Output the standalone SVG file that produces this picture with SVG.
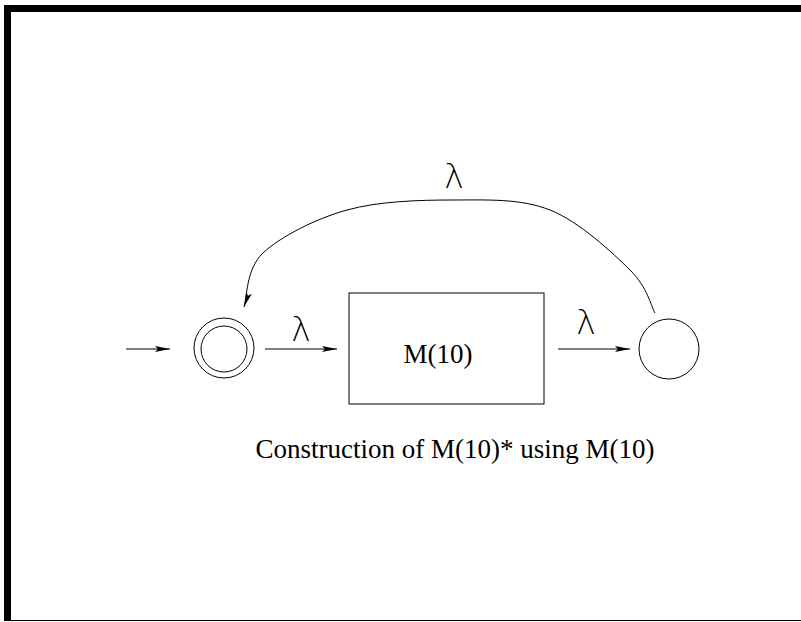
<svg xmlns="http://www.w3.org/2000/svg" width="801" height="622" viewBox="0 0 801 622">
<style>
.ln{fill:none;stroke:#000;stroke-width:1}
.lam{font-family:"DejaVu Sans","Liberation Sans",sans-serif;font-size:33px;font-weight:200;text-anchor:middle;fill:#000}
.tx{font-family:"Liberation Serif","Times New Roman",serif;font-size:27px;text-anchor:middle;fill:#000}
</style>
<defs>
<marker id="ah" markerUnits="userSpaceOnUse" markerWidth="16" markerHeight="8" refX="15" refY="4" orient="auto">
<path d="M0,1 L15,4 L0,7 L3,4 Z" fill="#000"/>
</marker>
</defs>
<rect width="801" height="622" fill="#fff"/>
<g id="frame">
<rect x="4" y="5" width="797" height="7" fill="#000"/>
<rect x="4" y="5" width="7" height="616" fill="#000"/>
<rect x="4" y="620" width="797" height="1" fill="#000"/>
</g>
<g id="connectors">
<line class="ln" x1="126" y1="349" x2="170" y2="349" marker-end="url(#ah)"/>
<line class="ln" x1="265" y1="349" x2="337" y2="349" marker-end="url(#ah)"/>
<line class="ln" x1="558" y1="349" x2="630" y2="349" marker-end="url(#ah)"/>
<path class="ln" d="M655,313 C650.8,305.8 647.5,287.2 630,270 C612.5,252.8 579.5,221.7 550,210 C520.5,198.3 486.8,200 453,200 C419.2,200 378.7,201.2 347,210 C315.3,218.8 280.2,236.8 263,253 C245.8,269.2 247.2,298 244,307" marker-end="url(#ah)"/>
<text class="lam" x="301" y="341">λ</text>
<text class="lam" x="586" y="334">λ</text>
<text class="lam" x="454" y="188">λ</text>
</g>
<g id="start">
<circle class="ln" cx="224" cy="348" r="30"/>
<circle class="ln" cx="224" cy="349" r="23"/>
</g>
<g id="machine">
<rect class="ln" x="349" y="293" width="195" height="111"/>
<text class="tx" x="438" y="363">M(10)</text>
</g>
<g id="final">
<circle class="ln" cx="669" cy="349" r="30"/>
</g>
<text class="tx" x="455" y="458">Construction of M(10)* using M(10)</text>
</svg>
